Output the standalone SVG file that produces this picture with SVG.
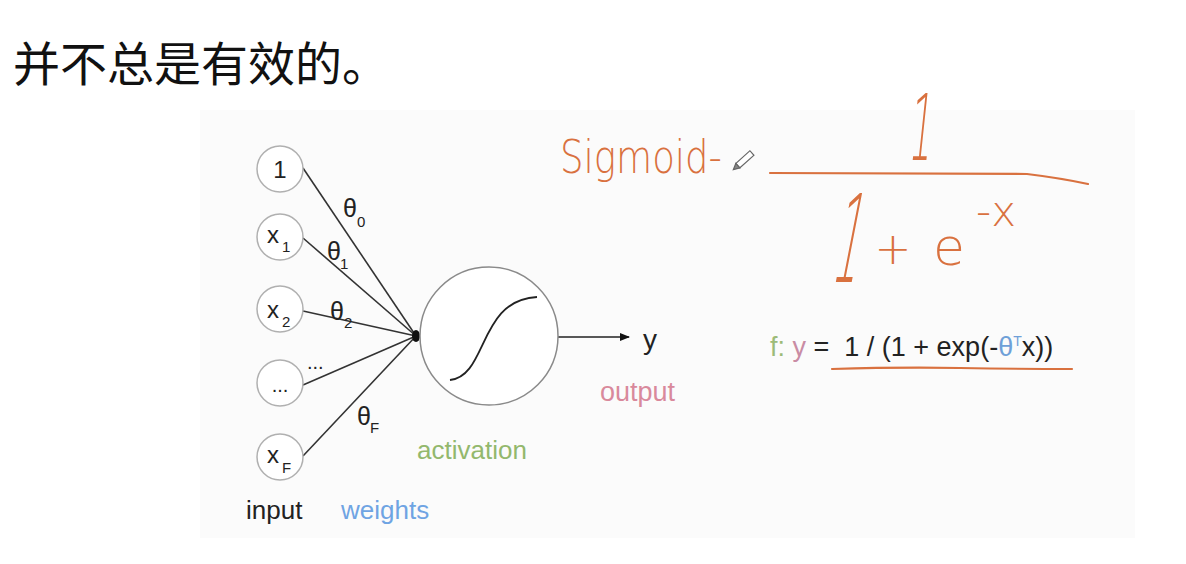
<svg xmlns="http://www.w3.org/2000/svg" width="1186" height="564" viewBox="0 0 1186 564">
<defs>
<style>
.t{font-family:"Liberation Sans",Arial,sans-serif;fill:#222}
.in{fill:#fff;stroke:#b0b0b0;stroke-width:1.5}
.w{stroke:#333;stroke-width:1.6;fill:none}
.hw{font-family:"DejaVu Sans","Liberation Sans",sans-serif;font-weight:200;fill:#d9713f}
.ink{stroke:#d9713f;stroke-width:2.2;fill:none;stroke-linecap:round}
</style>
<marker id="ah" markerWidth="10" markerHeight="8" refX="9" refY="4" orient="auto" markerUnits="userSpaceOnUse">
<path d="M0,0 L10,4 L0,8 Z" fill="#111"/>
</marker>
</defs>
<rect width="1186" height="564" fill="#fff"/>
<rect x="200" y="110" width="935" height="428" fill="#fbfbfb"/>
<text x="13" y="81" font-family="'Noto Sans CJK SC',sans-serif" font-size="47" fill="#111">并不总是有效的。</text>

<g id="connectors">
<line class="w" x1="303" y1="168" x2="416" y2="336"/>
<line class="w" x1="303" y1="238" x2="416" y2="336"/>
<line class="w" x1="303" y1="311" x2="416" y2="336"/>
<line class="w" x1="303" y1="385" x2="416" y2="336"/>
<line class="w" x1="303" y1="456" x2="416" y2="336"/>
<ellipse cx="416" cy="336" rx="4" ry="6" fill="#111"/>
<line x1="558" y1="337" x2="629" y2="337" stroke="#222" stroke-width="1.5" marker-end="url(#ah)"/>
<text class="t" x="343" y="217" font-size="25">θ</text><text class="t" x="357" y="227" font-size="15">0</text>
<text class="t" x="327" y="260" font-size="25">θ</text><text class="t" x="340" y="269" font-size="15">1</text>
<text class="t" x="330" y="320" font-size="25">θ</text><text class="t" x="344" y="328" font-size="15">2</text>
<text class="t" x="307" y="369" font-size="20">...</text>
<text class="t" x="357" y="425" font-size="25">θ</text><text class="t" x="370" y="433" font-size="15">F</text>
</g>

<g id="in-1"><circle class="in" cx="280" cy="169" r="23"/><text class="t" x="280" y="178" font-size="24" text-anchor="middle">1</text></g>
<g id="in-x1"><circle class="in" cx="280" cy="237" r="23"/><text class="t" x="267" y="243" font-size="24">x</text><text class="t" x="282" y="252" font-size="15">1</text></g>
<g id="in-x2"><circle class="in" cx="280" cy="309" r="23"/><text class="t" x="267" y="318" font-size="24">x</text><text class="t" x="282" y="327" font-size="15">2</text></g>
<g id="in-dots"><circle class="in" cx="280" cy="383" r="23"/><text class="t" x="280" y="392" font-size="20" text-anchor="middle">...</text></g>
<g id="in-xF"><circle class="in" cx="280" cy="457" r="23"/><text class="t" x="267" y="463" font-size="24">x</text><text class="t" x="282" y="473" font-size="15">F</text></g>

<g id="activation">
<circle cx="489" cy="336" r="69" fill="#fff" stroke="#8a8a8a" stroke-width="1.5"/>
<path d="M450,380 C488,376 478,300 537,297" fill="none" stroke="#222" stroke-width="1.8"/>
</g>
<text class="t" x="643" y="349" font-size="28">y</text>

<text class="t" x="246" y="519" font-size="26">input</text>
<text class="t" x="341" y="519" font-size="26" style="fill:#6fa4e3">weights</text>
<text class="t" x="417" y="459" font-size="26" style="fill:#93b86d">activation</text>
<text class="t" x="600" y="401" font-size="27" style="fill:#d9899c">output</text>

<g id="formula">
<text class="t" x="770" y="356" font-size="27" xml:space="preserve"><tspan style="fill:#9dbb78">f:</tspan> <tspan style="fill:#c98ca4">y</tspan> =  1 / (1 + exp(-<tspan style="fill:#6fa0d8">θ</tspan><tspan dy="-10" font-size="14" style="fill:#6fa0d8">T</tspan><tspan dy="10">x))</tspan></text>
<path class="ink" d="M832,369 Q900,367 960,368 T1072,369" stroke-width="2"/>
</g>

<g id="handwriting">
<text class="hw" x="560" y="173" font-size="46" textLength="162" lengthAdjust="spacingAndGlyphs">Sigmoid-</text>
<g transform="translate(743,161) rotate(-42)" fill="#fff" stroke="#666" stroke-width="1.2">
<path d="M-7,-3 L12,-3 L12,3 L-7,3 Z"/>
<path d="M-7,-3 L-13,0 L-7,3 Z" fill="#888"/>
</g>
<path class="ink" d="M770,173 L1027,174 Q1060,178 1088,184"/>
<text class="hw" transform="translate(919,160) skewX(-6) scale(0.4,1)" font-size="92" text-anchor="middle">1</text>
<text class="hw" transform="translate(843,282) skewX(-11) scale(0.35,1)" font-size="122" text-anchor="middle">1</text>
<text class="hw" x="893" y="264" font-size="44" text-anchor="middle">+</text>
<text class="hw" x="949" y="265" font-size="52" text-anchor="middle">e</text>
<text class="hw" x="996" y="226" font-size="42" text-anchor="middle">-x</text>
</g>
</svg>
